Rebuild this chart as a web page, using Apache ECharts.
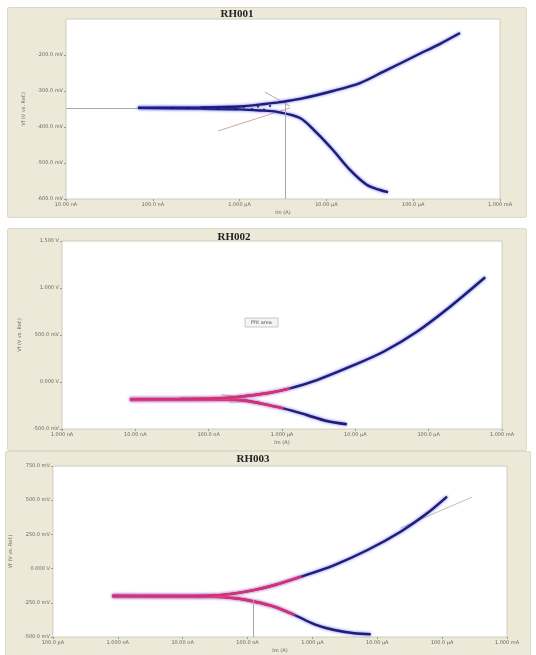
<!DOCTYPE html>
<html><head><meta charset="utf-8">
<script src="https://cdn.jsdelivr.net/npm/echarts@6/dist/echarts.min.js"></script>
<style>
html,body{margin:0;padding:0;background:#fff;}
#wrap{position:relative;width:536px;height:655px;overflow:hidden;}
.panel{position:absolute;background:#ECE9D8;border:1px solid #dddac9;border-radius:2px;}
#chart{position:absolute;left:0;top:0;width:536px;height:655px;}
</style></head><body>
<div id="wrap">
<div class="panel" style="left:7px;top:7px;width:518px;height:209px"></div>
<div class="panel" style="left:7px;top:228px;width:518px;height:221px"></div>
<div class="panel" style="left:5px;top:451px;width:524px;height:210px"></div>
<div id="chart"></div>
</div>
<script>
// ---------- Panel 1 (RH001) ----------
const p1Title = 'RH001';
const p1XLabels = ['10.00 nA','100.0 nA','1.000 µA','10.00 µA','100.0 µA','1.000 mA'];
const p1YLabels = ['-600.0 mV','-500.0 mV','-400.0 mV','-300.0 mV','-200.0 mV','-100.0 mV'];
const p1AnodicI = [6.74e-8,3.50e-7,1.01e-6,1.96e-6,2.92e-6,4.97e-6,1.19e-5,2.44e-5,4.49e-5,1.11e-4,2.04e-4,3.46e-4];
const p1AnodicE = [-0.347,-0.346,-0.343,-0.336,-0.331,-0.322,-0.300,-0.278,-0.247,-0.200,-0.169,-0.139];
const p1CathodicI = [6.74e-8,3.50e-7,1.01e-6,1.72e-6,2.70e-6,4.97e-6,7.80e-6,1.19e-5,1.87e-5,2.94e-5,4.15e-5,5.13e-5];
const p1CathodicE = [-0.347,-0.349,-0.351,-0.354,-0.358,-0.375,-0.417,-0.464,-0.519,-0.561,-0.575,-0.581];
const p1DotsI = [7.12e-8,1.66e-7,2.55e-7,3.99e-7,5.64e-7,7.34e-7,9.10e-7,1.12e-6,1.39e-6,1.63e-6,1.91e-6,2.24e-6];
const p1DotsE = [-0.347,-0.347,-0.347,-0.346,-0.349,-0.345,-0.350,-0.344,-0.351,-0.343,-0.352,-0.342];
const p1FitCathI = [5.64e-7,3.81e-6];
const p1FitCathE = [-0.411,-0.347];
const p1FitAnI = [1.96e-6,3.81e-6];
const p1FitAnE = [-0.303,-0.342];
const p1Icorr = 3.33e-6, p1Ecorr = -0.347;

// ---------- Panel 2 (RH002) ----------
const p2Title = 'RH002';
const p2XLabels = ['1.000 nA','10.00 nA','100.0 nA','1.000 µA','10.00 µA','100.0 µA','1.000 mA'];
const p2YLabels = ['-500.0 mV','0.000 V','500.0 mV','1.000 V','1.500 V'];
const p2AnodicI = [8.47e-9,4.07e-8,1.22e-7,2.68e-7,6.21e-7,1.29e-6,2.99e-6,8.49e-6,2.42e-5,6.90e-5,1.96e-4,5.90e-4];
const p2AnodicE = [-0.184,-0.181,-0.176,-0.156,-0.120,-0.067,0.021,0.163,0.322,0.535,0.801,1.114];
const p2CathodicI = [8.47e-9,4.07e-8,1.22e-7,2.68e-7,5.02e-7,1.04e-6,2.18e-6,4.08e-6,7.66e-6];
const p2CathodicE = [-0.186,-0.186,-0.186,-0.191,-0.227,-0.280,-0.351,-0.415,-0.450];
const p2PinkAnodicCount = 6;
const p2PinkCathodicCount = 6;
const p2FitAnI = [1.5e-7,3.3e-7];
const p2FitAnE = [-0.135,-0.165];
const p2FitCathI = [1.9e-7,5.0e-7];
const p2FitCathE = [-0.215,-0.205];
const p2BoxText = 'Pfit area';

// ---------- Panel 3 (RH003) ----------
const p3Title = 'RH003';
const p3XLabels = ['100.0 pA','1.000 nA','10.00 nA','100.0 nA','1.000 µA','10.00 µA','100.0 µA','1.000 mA'];
const p3YLabels = ['-500.0 mV','-250.0 mV','0.000 V','250.0 mV','500.0 mV','750.0 mV'];
const p3AnodicI = [8.30e-10,4.84e-9,2.51e-8,6.41e-8,1.30e-7,2.63e-7,6.72e-7,2.18e-6,7.08e-6,2.29e-5,5.88e-5,1.19e-4];
const p3AnodicE = [-0.200,-0.200,-0.198,-0.181,-0.156,-0.120,-0.059,0.026,0.136,0.270,0.404,0.526];
const p3CathodicI = [8.30e-10,4.84e-9,2.51e-8,6.41e-8,1.30e-7,2.63e-7,5.32e-7,1.08e-6,2.18e-6,4.42e-6,7.94e-6];
const p3CathodicE = [-0.200,-0.2025,-0.205,-0.217,-0.242,-0.279,-0.339,-0.407,-0.449,-0.473,-0.480];
const p3PinkAnodicCount = 7;
const p3PinkCathodicCount = 7;
const p3FitAnI = [2.29e-5,2.90e-4];
const p3FitAnE = [0.297,0.523];
const p3Icorr = 1.24e-7, p3Ecorr = -0.2295;

// ---------- helpers ----------
const zip = (a, b) => a.map((v, i) => [v, b[i]]);
const NAVY = '#1f1f72', PINK = '#d8306a';
const labelFont = {fontSize: 5, color: '#666', fontFamily: 'DejaVu Sans'};

function xAxisFor(gi, labels, minExp, maxExp) {
  return {
    type: 'log', logBase: 10, gridIndex: gi,
    min: Math.pow(10, minExp), max: Math.pow(10, maxExp),
    splitNumber: maxExp - minExp,
    axisLine: {show: false, onZero: false},
    axisTick: {show: true, length: 2, lineStyle: {color: '#999'}},
    splitLine: {show: false},
    axisLabel: Object.assign({margin: 3, formatter: v => labels[Math.round(Math.log10(v)) - minExp] || ''}, labelFont),
    name: 'Im (A)', nameLocation: 'middle', nameGap: 11,
    nameTextStyle: {fontSize: 5, color: '#666', fontFamily: 'DejaVu Sans'}
  };
}
function yAxisFor(gi, labels, min, max, interval, nameGap, showMax) {
  return {
    type: 'value', gridIndex: gi, min: min, max: max, interval: interval,
    axisLine: {show: false, onZero: false},
    axisTick: {show: true, length: 2, lineStyle: {color: '#999'}},
    splitLine: {show: false},
    axisLabel: Object.assign({margin: 3, showMaxLabel: showMax,
      formatter: v => labels[Math.round((v - min) / interval)] || ''}, labelFont),
    name: 'Vf (V vs. Ref.)', nameLocation: 'middle', nameGap: nameGap, nameRotate: 90,
    nameTextStyle: {fontSize: 5, color: '#666', fontFamily: 'DejaVu Sans'}
  };
}
function curve(gi, data, color, width) {
  return {
    type: 'line', xAxisIndex: gi, yAxisIndex: gi, data: data, smooth: 0.3,
    showSymbol: false, symbol: 'none', silent: true,
    lineStyle: {color: color, width: width || 2.4, shadowColor: color === PINK ? 'rgba(255,110,170,0.8)' : 'rgba(70,70,255,0.85)', shadowBlur: 3},
    z: 3
  };
}
function fitLine(gi, data, color) {
  return {type: 'line', xAxisIndex: gi, yAxisIndex: gi, data: data, symbol: 'none', silent: true,
    lineStyle: {color: color, width: 1}, z: 2};
}

const option = {
  animation: false,
  grid: [
    {left: 66, top: 19, width: 434, height: 180, show: true, backgroundColor: '#fff', borderColor: '#d0cdbd', borderWidth: 1},
    {left: 62, top: 241, width: 440, height: 188, show: true, backgroundColor: '#fff', borderColor: '#d0cdbd', borderWidth: 1},
    {left: 50, top: 466, width: 457, height: 171, show: true, backgroundColor: '#fff', borderColor: '#d0cdbd', borderWidth: 1}
  ],
  xAxis: [
    xAxisFor(0, p1XLabels, -8, -3),
    xAxisFor(1, p2XLabels, -9, -3),
    xAxisFor(2, p3XLabels, -10, -3)
  ],
  yAxis: [
    yAxisFor(0, p1YLabels, -0.6, -0.1, 0.1, 40, false),
    yAxisFor(1, p2YLabels, -0.5, 1.5, 0.5, 40, true),
    yAxisFor(2, p3YLabels, -0.5, 0.75, 0.25, 32, true)
  ],
  graphic: [
    {type: 'text', style: {text: p1Title, x: 237, y: 14, textAlign: 'center', textVerticalAlign: 'middle', font: 'bold 11px "Liberation Serif"', fill: '#222'}},
    {type: 'text', style: {text: p2Title, x: 234, y: 237, textAlign: 'center', textVerticalAlign: 'middle', font: 'bold 11px "Liberation Serif"', fill: '#222'}},
    {type: 'text', style: {text: p3Title, x: 253, y: 459, textAlign: 'center', textVerticalAlign: 'middle', font: 'bold 11px "Liberation Serif"', fill: '#222'}},
    {type: 'rect', shape: {x: 245, y: 318, width: 33, height: 9}, style: {fill: '#f4f4f4', stroke: '#bbb', lineWidth: 0.8}, z: 10},
    {type: 'text', style: {text: p2BoxText, x: 261.5, y: 322.5, textAlign: 'center', textVerticalAlign: 'middle', font: '5px "DejaVu Sans"', fill: '#555'}, z: 11}
  ],
  series: [
    // panel 1
    fitLine(0, zip(p1FitCathI, p1FitCathE), '#d9a6a6'),
    fitLine(0, zip(p1FitAnI, p1FitAnE), '#b0b0b0'),
    Object.assign(curve(0, zip(p1CathodicI, p1CathodicE), NAVY), {
      markLine: {symbol: 'none', silent: true, label: {show: false}, lineStyle: {color: '#a8a8a8', width: 1, type: 'solid'},
        data: [
          [{coord: [p1Icorr, p1Ecorr + 0.012]}, {coord: [p1Icorr, -0.6]}],
          [{coord: [1e-8, p1Ecorr]}, {coord: [p1AnodicI[0], p1Ecorr]}]
        ]}
    }),
    curve(0, zip(p1AnodicI, p1AnodicE), NAVY),
    {type: 'scatter', xAxisIndex: 0, yAxisIndex: 0, data: zip(p1DotsI, p1DotsE), symbolSize: 2.5, silent: true,
      itemStyle: {color: '#1a1a66'}, z: 4},
    // panel 2
    fitLine(1, zip(p2FitAnI, p2FitAnE), '#b0b0b0'),
    fitLine(1, zip(p2FitCathI, p2FitCathE), '#b0b0b0'),
    curve(1, zip(p2CathodicI, p2CathodicE), NAVY),
    curve(1, zip(p2AnodicI, p2AnodicE), NAVY),
    curve(1, zip(p2CathodicI, p2CathodicE).slice(0, p2PinkCathodicCount), PINK),
    curve(1, zip(p2AnodicI, p2AnodicE).slice(0, p2PinkAnodicCount), PINK),
    // panel 3
    fitLine(2, zip(p3FitAnI, p3FitAnE), '#c0c0c0'),
    Object.assign(curve(2, zip(p3CathodicI, p3CathodicE), NAVY), {
      markLine: {symbol: 'none', silent: true, label: {show: false}, lineStyle: {color: '#a8a8a8', width: 1, type: 'solid'},
        data: [[{coord: [p3Icorr, p3Ecorr]}, {coord: [p3Icorr, -0.5]}]]}
    }),
    curve(2, zip(p3AnodicI, p3AnodicE), NAVY),
    curve(2, zip(p3CathodicI, p3CathodicE).slice(0, p3PinkCathodicCount), PINK),
    curve(2, zip(p3AnodicI, p3AnodicE).slice(0, p3PinkAnodicCount), PINK)
  ]
};

const chart = echarts.init(document.getElementById('chart'), null, {renderer: 'canvas'});
chart.setOption(option);
</script>
</body></html>
